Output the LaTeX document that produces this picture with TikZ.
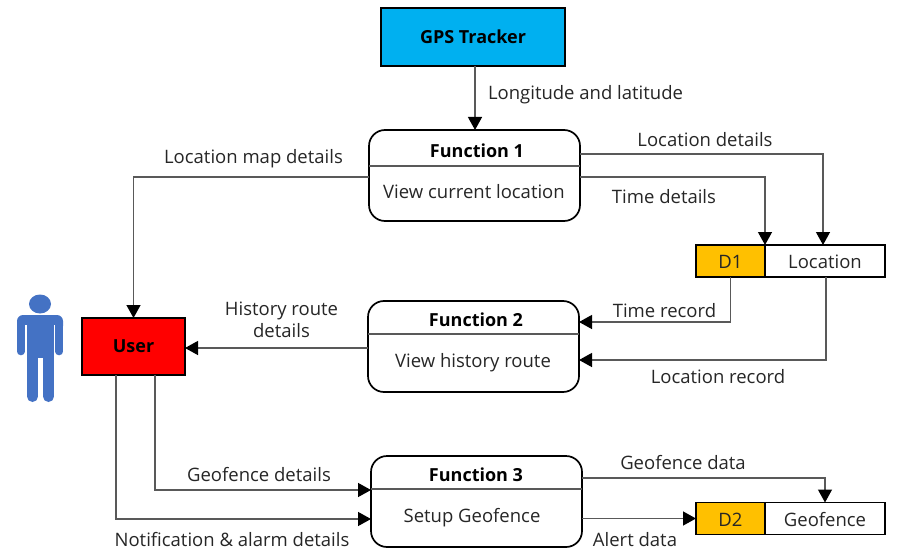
\documentclass[tikz,border=0pt]{standalone}
\usepackage{fontspec}
\setmainfont{Open Sans}
\usepackage{xcolor}
\usetikzlibrary{arrows.meta,calc,positioning}
\definecolor{trackerblue}{HTML}{00B0F0}
\definecolor{storeamber}{HTML}{FFC000}
\definecolor{personblue}{HTML}{4472C4}
\definecolor{flowgrey}{HTML}{595959}
\definecolor{textgrey}{HTML}{262626}
\tikzset{
  flow/.style={draw=flowgrey,line width=1.3pt,-{Triangle[length=13pt,width=14pt,color=black]}},
  fnbox/.style={draw=black,line width=1.7pt,rounded corners=16pt,minimum width=211pt,minimum height=91pt,inner sep=0pt,outer sep=0pt},
  divider/.style={draw=flowgrey,line width=1.2pt},
  solidbox/.style={draw=black,line width=1.7pt,inner sep=0pt,outer sep=0pt},
  storebox/.style={solidbox,lbl,minimum height=32pt,text height=15pt,text depth=0pt},
  lbl/.style={text=textgrey,font=\fontsize{18.5pt}{22pt}\selectfont,inner sep=0pt,align=center},
  head/.style={text=black,font=\fontsize{18pt}{22pt}\selectfont\bfseries,inner sep=0pt}
}
\begin{document}
\begin{tikzpicture}[x=1pt,y=-1pt,>=Latex]
  \useasboundingbox (0,0) rectangle (899,559);

  % Tracker and user
  \node[solidbox,fill=trackerblue,minimum width=184pt,minimum height=58pt,head] (tracker) at (473,37) {GPS Tracker};
  \node[solidbox,fill=red,minimum width=103pt,minimum height=57pt,head] (user) at (133.5,346.5) {User};

  % Person icon
  \fill[personblue] (40,304) ellipse (11 and 9.5);
  \fill[personblue,rounded corners=6pt] (17,315) rectangle (63,332);
  \fill[personblue] (27,320) rectangle (54,358);
  \fill[white] (24.2,325) rectangle (27,358);
  \fill[white] (54,325) rectangle (55.8,358);
  \draw[personblue,line width=7.6pt,line cap=round] (20.8,322) -- (20.8,351.5);
  \draw[personblue,line width=7.6pt,line cap=round] (59.2,322) -- (59.2,351.5);
  \draw[personblue,line width=11pt,line cap=round] (32.5,350) -- (32.5,396.5);
  \draw[personblue,line width=11pt,line cap=round] (48.5,350) -- (48.5,396.5);

  % Function boxes
  \node[fnbox] (fnOne) at (474.5,175.5) {};
  \node[fnbox] (fnTwo) at (473.5,346.5) {};
  \node[fnbox] (fnThree) at (476.5,501.5) {};
  \draw[divider] (fnOne.west |- 0,166) -- (fnOne.east |- 0,166);
  \draw[divider] (fnTwo.west |- 0,334) -- (fnTwo.east |- 0,334);
  \draw[divider] (fnThree.west |- 0,489) -- (fnThree.east |- 0,489);
  \node[head] (fnOneHead) at (477,150.5) {Function 1};
  \node[lbl] (fnOneText) at (474,192) {View current location};
  \node[head] (fnTwoHead) at (476,319.5) {Function 2};
  \node[lbl] (fnTwoText) at (473,363) {View history route};
  \node[head] (fnThreeHead) at (476,474.5) {Function 3};
  \node[lbl] (fnThreeText) at (472,518) {Setup Geofence};

  % Data stores
  \node[storebox,fill=storeamber,minimum width=69pt] (dOne) at (730.5,261) {D1};
  \node[storebox,minimum width=120pt,right=0pt of dOne] (dOneName) {Location};
  \node[storebox,fill=storeamber,minimum width=69pt] (dTwo) at (730.5,518.5) {D2};
  \node[storebox,minimum width=120pt,right=0pt of dTwo] (dTwoName) {Geofence};

  % Connectors
  \draw[flow] (tracker.south -| 475,0) -- (fnOne.north -| 475,0);
  \draw[flow] ([yshift=-1.5pt]fnOne.west) -| (user.north);
  \draw[flow] ([yshift=21.5pt]fnOne.east) -| (dOneName.north -| 823,0);
  \draw[flow] ([yshift=-1.5pt]fnOne.east) -| (dOne.north east);
  \draw[flow] (dOne.south) |- ([yshift=24.5pt]fnTwo.east);
  \draw[flow] (dOneName.south -| 826,0) |- ([yshift=-13.5pt]fnTwo.east);
  \draw[flow] ([yshift=-1.5pt]fnTwo.west) -- (user.east |- 0,348);
  \draw[flow] (user.south -| 155,0) |- (fnThree.west |- 0,490);
  \draw[flow] (user.south -| 116,0) |- (fnThree.west |- 0,519);
  \draw[flow] ([yshift=23.5pt]fnThree.east) -| (dTwoName.north);
  \draw[flow] ([yshift=-17pt]fnThree.east) -- (dTwo.west);

  % Flow labels
  \node[lbl] (lblLonLat) at (585.5,94.5) {Longitude and latitude};
  \node[lbl] (lblMap) at (253.5,159) {Location map details};
  \node[lbl] (lblLocDet) at (705,140) {Location details};
  \node[lbl] (lblTimeDet) at (664,197) {Time details};
  \node[lbl] (lblTimeRec) at (664.5,310.5) {Time record};
  \node[lbl] (lblLocRec) at (718,377) {Location record};
  \node[lbl] (lblHistory) at (281.5,320) {History route\\details};
  \node[lbl] (lblGeoDet) at (259,475) {Geofence details};
  \node[lbl] (lblNotify) at (232,540) {Notification \& alarm details};
  \node[lbl] (lblGeoData) at (683,463) {Geofence data};
  \node[lbl] (lblAlert) at (635,540) {Alert data};
\end{tikzpicture}
\end{document}
